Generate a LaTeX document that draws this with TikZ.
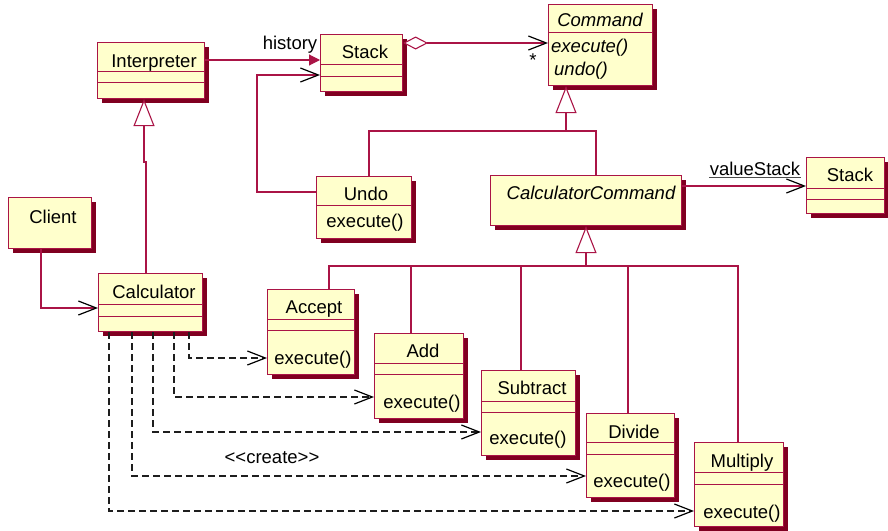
\documentclass[tikz,border=0pt]{standalone}
\usepackage{fontspec}
\setmainfont{Liberation Sans}
\usetikzlibrary{arrows.meta,shadows}

\definecolor{classfill}{RGB}{255,255,204}
\definecolor{classline}{RGB}{170,20,70}
\definecolor{shadowred}{RGB}{128,0,32}
\definecolor{connline}{RGB}{170,20,70}
\definecolor{depline}{RGB}{30,30,30}

\tikzset{
  every node/.style={inner sep=0pt, font=\fontsize{18.5}{22}\selectfont},
  umlclass/.style={draw=classline, fill=classfill, line width=1.1pt,
    drop shadow={shadow xshift=4pt, shadow yshift=-4pt, fill=shadowred, opacity=1},
    anchor=north west},
  label/.style={anchor=base, text=black},
  oplabel/.style={anchor=base west, text=black},
  compline/.style={draw=classline, line width=1pt},
  assoc/.style={draw=connline, line width=1.1pt},
  openhead/.style={-{Straight Barb[length=18pt, width=14pt, line width=1.2pt, color=black]}},
  navhead/.style={-{Triangle[length=11pt, width=11pt, color=connline]}},
  genhead/.style={-{Triangle[open, length=27pt, width=21pt, fill=white, line width=1.1pt, color=connline]}},
  aggtail/.style={{Diamond[open, length=25pt, width=13pt, fill=white, line width=1.1pt, color=connline]}-{Straight Barb[length=18pt, width=14pt, line width=1.2pt, color=black]}},
  dep/.style={draw=depline, line width=1.2pt, dash pattern=on 7pt off 4pt,
    -{Straight Barb[length=18pt, width=14pt, line width=1.2pt, color=black]}},
}

% class box: name, left, top, width, height
\newcommand{\umlbox}[5]{%
  \node[umlclass, minimum width=#4pt, minimum height=#5pt] (#1) at (#2,#3) {};}
% compartment separator: node, distance below the top edge
\newcommand{\compsep}[2]{%
  \draw[compline] ([yshift=-#2pt]#1.north west) -- ([yshift=-#2pt]#1.north east);}

\begin{document}
\begin{tikzpicture}[x=1pt, y=-1pt]
\useasboundingbox (0,0) rectangle (888,530);

% ---------- classes ----------
\umlbox{interp}{97}{42}{107}{56}
\compsep{interp}{29}\compsep{interp}{40}
\node[label] at (154,67) {Interpreter};

\umlbox{stackA}{320}{34}{82}{57}
\compsep{stackA}{30}\compsep{stackA}{42}
\node[label] at (365,58) {Stack};

\umlbox{command}{548}{4}{104}{81}
\compsep{command}{28}
\node[label] at (600,26) {\itshape Command};
\node[oplabel] at (551,52) {\itshape execute()};
\node[oplabel] at (554,75) {\itshape undo()};

\umlbox{calccmd}{490}{175}{191}{50}
\node[label] at (591,199) {\itshape CalculatorCommand};

\umlbox{undo}{316}{176}{95}{62}
\compsep{undo}{29}
\node[label] at (366,200) {Undo};
\node[label] at (365,227) {execute()};

\umlbox{stackB}{806}{157}{78}{56}
\compsep{stackB}{31}\compsep{stackB}{42}
\node[label] at (850,181) {Stack};

\umlbox{client}{8}{197}{83}{51}
\node[label] at (53,223) {Client};

\umlbox{calc}{98}{273}{104}{58}
\compsep{calc}{31}\compsep{calc}{43}
\node[label] at (154,298) {Calculator};

\umlbox{accept}{267}{289}{87}{85}
\compsep{accept}{30}\compsep{accept}{41}
\node[label] at (314,313) {Accept};
\node[label] at (313,364) {execute()};

\umlbox{add}{374}{333}{89}{85}
\compsep{add}{30}\compsep{add}{41}
\node[label] at (423,357) {Add};
\node[label] at (422,408) {execute()};

\umlbox{subtract}{481}{370}{94}{85}
\compsep{subtract}{31}\compsep{subtract}{42}
\node[label] at (532,394) {Subtract};
\node[label] at (528,444) {execute()};

\umlbox{divide}{586}{413}{88}{84}
\compsep{divide}{29}\compsep{divide}{41}
\node[label] at (634,438) {Divide};
\node[label] at (632,487) {execute()};

\umlbox{multiply}{694}{442}{89}{84}
\compsep{multiply}{30}\compsep{multiply}{42}
\node[label] at (742,467) {Multiply};
\node[label] at (742,518) {execute()};

% ---------- associations ----------
\draw[assoc, navhead] (interp.east |- 0,60) -- (stackA.west |- 0,60);
\node[label] (histlbl) at (290,49) {history};

\draw[assoc, openhead] (undo.west |- 0,192) -| (257,75) -- (stackA.west |- 0,75);

\draw[assoc, aggtail] (stackA.east |- 0,43) -- (command.west |- 0,43);
\node[label] (mult) at (533,66) {*};

\draw[assoc, openhead] (calccmd.east |- 0,186) -- (stackB.west |- 0,186);
\node[label] (vslbl) at (755,175) {valueStack};
\draw[black!70, line width=1pt] (709,177) -- (801,177);

\draw[assoc, openhead] (41,0 |- client.south) |- (calc.west |- 0,308);

% ---------- generalizations ----------
\draw[assoc, genhead] (146,0 |- calc.north) -- (146,162) -- (144,162) -- (144,0 |- interp.south);

\draw[assoc] (369,0 |- undo.north) |- (596,131) -- (596,0 |- calccmd.north);
\draw[assoc, genhead] (566,131) -- (566,0 |- command.south);

\draw[assoc, genhead] (586,266) -- (586,0 |- calccmd.south);
\draw[assoc] (329,0 |- accept.north) |- (738,266) -- (738,0 |- multiply.north);
\draw[assoc] (411,266) -- (411,0 |- add.north);
\draw[assoc] (521,266) -- (521,0 |- subtract.north);
\draw[assoc] (628,266) -- (628,0 |- divide.north);

% ---------- <<create>> dependencies ----------
\draw[dep] (189,0 |- calc.south) |- (accept.west |- 0,358);
\draw[dep] (174,0 |- calc.south) |- (add.west |- 0,397);
\draw[dep] (153,0 |- calc.south) |- (subtract.west |- 0,432);
\draw[dep] (132,0 |- calc.south) |- (divide.west |- 0,476);
\draw[dep] (109,0 |- calc.south) |- (multiply.west |- 0,511);
\node[label] (create) at (272,463) {<\kern0pt<create>\kern0pt>};

\end{tikzpicture}
\end{document}
